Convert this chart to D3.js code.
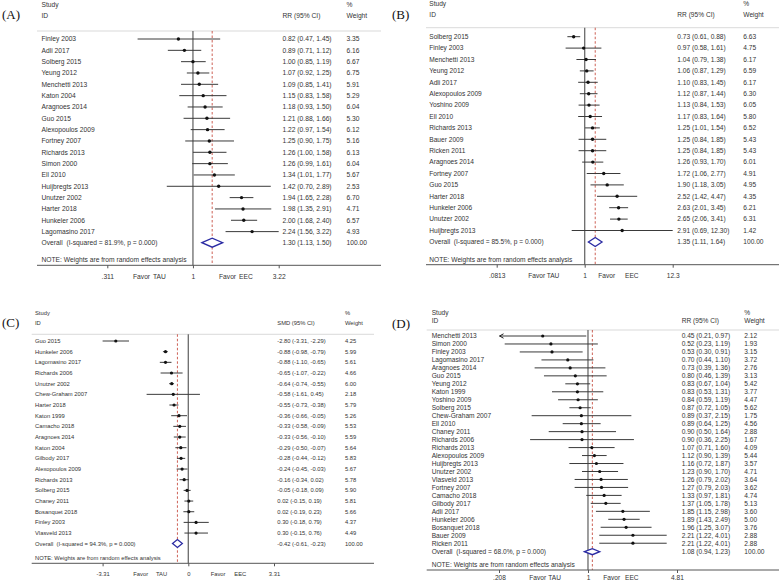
<!DOCTYPE html>
<html><head><meta charset="utf-8">
<script src="https://cdn.jsdelivr.net/npm/d3@7"></script>
<style>
html,body{margin:0;padding:0;background:#fff;}
svg text{font-family:"Liberation Sans",Arial,sans-serif;fill:#333;white-space:pre;}
</style></head>
<body><svg id="c" width="779" height="581"></svg>
<script>
// ---------- Panel A (RR) ----------
const studiesA = ["Finley 2003","Adli 2017","Solberg 2015","Yeung 2012","Menchetti 2013","Katon 2004","Aragnoes 2014","Guo 2015","Alexopoulos 2009","Fortney 2007","Richards 2013","Simon 2000","Ell 2010","Huijbregts 2013","Unutzer 2002","Harter 2018","Hunkeler 2006","Lagomasino 2017"];
const estA = [0.82,0.89,1.00,1.07,1.09,1.15,1.18,1.21,1.22,1.25,1.26,1.26,1.34,1.42,1.94,1.98,2.00,2.24];
const loA  = [0.47,0.71,0.85,0.92,0.85,0.83,0.93,0.88,0.97,0.90,1.00,0.99,1.01,0.70,1.65,1.35,1.68,1.56];
const hiA  = [1.45,1.12,1.19,1.25,1.41,1.58,1.50,1.66,1.54,1.75,1.58,1.61,1.77,2.89,2.28,2.91,2.40,3.22];
const wA   = [3.35,6.16,6.67,6.75,5.91,5.29,6.04,5.30,6.12,5.16,6.13,6.04,5.67,2.53,6.70,4.71,6.57,4.93];
const overallA = [1.30,1.13,1.50];
const isqA = "81.9%";
const ticksA = [0.311,1,3.22];
const tickLabelsA = [".311","1","3.22"];

// ---------- Panel B (RR) ----------
const studiesB = ["Solberg 2015","Finley 2003","Menchetti 2013","Yeung 2012","Adli 2017","Alexopoulos 2009","Yoshino 2009","Ell 2010","Richards 2013","Bauer 2009","Ricken 2011","Aragnoes 2014","Fortney 2007","Guo 2015","Harter 2018","Hunkeler 2006","Unutzer 2002","Huijbregts 2013"];
const estB = [0.73,0.97,1.04,1.06,1.10,1.12,1.13,1.17,1.25,1.25,1.25,1.26,1.72,1.90,2.52,2.63,2.65,2.91];
const loB  = [0.61,0.58,0.79,0.87,0.83,0.87,0.84,0.83,1.01,0.84,0.84,0.93,1.06,1.18,1.42,2.01,2.06,0.69];
const hiB  = [0.88,1.61,1.38,1.29,1.45,1.44,1.53,1.64,1.54,1.85,1.85,1.70,2.77,3.05,4.47,3.45,3.41,12.30];
const wB   = [6.63,4.75,6.17,6.59,6.17,6.30,6.05,5.80,6.52,5.43,5.43,6.01,4.91,4.95,4.35,6.21,6.31,1.42];
const overallB = [1.35,1.11,1.64];
const isqB = "85.5%";
const ticksB = [0.0813,1,12.3];
const tickLabelsB = [".0813","1","12.3"];

// ---------- Panel C (SMD) ----------
const studiesC = ["Guo 2015","Hunkeler 2006","Lagomasino 2017","Richards 2006","Unutzer 2002","Chew-Graham 2007","Harter 2018","Katon 1999","Camacho 2018","Aragnoes 2014","Katon 2004","Gilbody 2017","Alexopoulos 2009","Richards 2013","Solberg 2015","Chaney 2011","Bosanquet 2018","Finley 2003","Vlasveld 2013"];
const estC = [-2.80,-0.88,-0.88,-0.65,-0.64,-0.58,-0.55,-0.36,-0.33,-0.33,-0.29,-0.28,-0.24,-0.16,-0.05,0.02,0.02,0.30,0.30];
const loC  = [-3.31,-0.98,-1.10,-1.07,-0.74,-1.61,-0.73,-0.66,-0.58,-0.56,-0.50,-0.44,-0.45,-0.34,-0.18,-0.15,-0.19,-0.18,-0.15];
const hiC  = [-2.29,-0.79,-0.65,-0.22,-0.55,0.45,-0.38,-0.05,-0.09,-0.10,-0.07,-0.12,-0.03,0.02,0.09,0.19,0.23,0.79,0.76];
const wC   = [4.25,5.99,5.61,4.66,6.00,2.18,5.79,5.26,5.53,5.59,5.64,5.83,5.67,5.78,5.90,5.81,5.66,4.37,4.49];
const overallC = [-0.42,-0.61,-0.23];
const isqC = "94.3%";
const ticksC = [-3.31,0,3.31];
const tickLabelsC = ["-3.31","0","3.31"];

// ---------- Panel D (RR) ----------
const studiesD = ["Menchetti 2013","Simon 2000","Finley 2003","Lagomasino 2017","Aragnoes 2014","Guo 2015","Yeung 2012","Katon 1999","Yoshino 2009","Solberg 2015","Chew-Graham 2007","Ell 2010","Chaney 2011","Richards 2006","Richards 2013","Alexopoulos 2009","Huijbregts 2013","Unutzer 2002","Vlasveld 2013","Fortney 2007","Camacho 2018","Gilbody 2017","Adli 2017","Hunkeler 2006","Bosanquet 2018","Bauer 2009","Ricken 2011"];
const estD = [0.45,0.52,0.53,0.70,0.73,0.80,0.83,0.83,0.84,0.87,0.89,0.89,0.90,0.90,1.07,1.12,1.16,1.23,1.26,1.27,1.33,1.37,1.85,1.89,1.96,2.21,2.21];
const loD  = [0.21,0.23,0.30,0.44,0.39,0.46,0.67,0.53,0.59,0.72,0.37,0.64,0.50,0.36,0.71,0.90,0.72,0.90,0.79,0.79,0.97,1.05,1.15,1.43,1.25,1.22,1.22];
const hiD  = [0.97,1.19,0.91,1.10,1.36,1.39,1.04,1.31,1.19,1.05,2.15,1.25,1.64,2.25,1.60,1.39,1.87,1.70,2.02,2.03,1.81,1.78,2.98,2.49,3.07,4.01,4.01];
const wD   = [2.12,1.93,3.15,3.72,2.76,3.13,5.42,3.77,4.47,5.62,1.75,4.56,2.88,1.67,4.09,5.44,3.57,4.71,3.64,3.62,4.74,5.13,3.60,5.00,3.76,2.88,2.88];
const overallD = [1.08,0.94,1.23];
const isqD = "68.0%";
const ticksD = [0.208,1,4.81];
const tickLabelsD = [".208","1","4.81"];
const arrowLeftD = ["Menchetti 2013"];

const svg = d3.select("#c");

function fmt(v){ return v.toFixed(2); }

function drawPanel(cfg, d){
  const g = svg.append("g");
  const x = cfg.log ? d3.scaleLog().domain(cfg.dom).range(cfg.rng)
                    : d3.scaleLinear().domain(cfg.dom).range(cfg.rng);
  const fs = cfg.fs;
  // panel label
  g.append("text").attr("x",cfg.labX).attr("y",cfg.labY).attr("dy","0.35em")
    .style("font-family","'Liberation Serif','Times New Roman',serif").style("font-size","13px").style("fill","#111")
    .text(cfg.label);
  // header
  const hdr = [["Study",cfg.sx,cfg.h1],["ID",cfg.sx,cfg.h2],[cfg.measure+" (95% CI)",cfg.ex,cfg.h2],["%",cfg.wx,cfg.h1],["Weight",cfg.wx,cfg.h2]];
  hdr.forEach(h=>g.append("text").attr("x",h[1]).attr("y",h[2]).attr("dy","0.35em").style("font-size",fs+"px").text(h[0]));
  g.append("line").attr("x1",cfg.ax0).attr("x2",cfg.ax1).attr("y1",cfg.rule).attr("y2",cfg.rule)
    .attr("stroke","#cfcfcf").attr("stroke-width",0.8);
  const yRow = i => cfg.r0 + i*cfg.step;
  // null line
  g.append("line").attr("x1",x(cfg.nullV)).attr("x2",x(cfg.nullV)).attr("y1",cfg.rule).attr("y2",cfg.axY)
    .attr("stroke","#6a6a6a").attr("stroke-width",1.3);
  // overall dashed line
  g.append("line").attr("x1",x(d.overall[0])).attr("x2",x(d.overall[0])).attr("y1",cfg.rule).attr("y2",cfg.axY)
    .attr("stroke","#c0392b").attr("stroke-width",0.8).attr("stroke-dasharray","2.5,2");
  // rows
  d.studies.forEach((s,i)=>{
    const y = yRow(i);
    const arrow = d.arrowLeft && d.arrowLeft.includes(s);
    g.append("line").attr("x1",x(d.lo[i])).attr("x2",x(d.hi[i])).attr("y1",y).attr("y2",y)
      .attr("stroke","#3a3a3a").attr("stroke-width",1);
    if(arrow){
      const ax = x(d.lo[i]);
      g.append("path").attr("d",`M${ax+4},${y-2.2} L${ax},${y} L${ax+4},${y+2.2}`)
        .attr("fill","none").attr("stroke","#222").attr("stroke-width",1);
    }
    g.append("circle").attr("cx",x(d.est[i])).attr("cy",y).attr("r",cfg.mr).attr("fill","#111");
    g.append("text").attr("x",cfg.sx).attr("y",y).attr("dy","0.35em").style("font-size",fs+"px").text(s);
    g.append("text").attr("x",cfg.ex).attr("y",y).attr("dy","0.35em").style("font-size",fs+"px")
      .text(`${fmt(d.est[i])} (${fmt(d.lo[i])}, ${fmt(d.hi[i])})`);
    g.append("text").attr("x",cfg.wx).attr("y",y).attr("dy","0.35em").style("font-size",fs+"px").text(fmt(d.w[i]));
  });
  // overall
  const oy = cfg.oy, o = d.overall, hh = cfg.dh;
  g.append("path").attr("d",`M${x(o[1])},${oy} L${x(o[0])},${oy-hh} L${x(o[2])},${oy} L${x(o[0])},${oy+hh} Z`)
    .attr("fill","#fff").attr("stroke","#2b2ba3").attr("stroke-width",1.3);
  g.append("text").attr("x",cfg.sx).attr("y",oy).attr("dy","0.35em").style("font-size",fs+"px")
    .text(`Overall  (I-squared = ${d.isq}, p = 0.000)`);
  g.append("text").attr("x",cfg.ex).attr("y",oy).attr("dy","0.35em").style("font-size",fs+"px")
    .text(`${fmt(o[0])} (${fmt(o[1])}, ${fmt(o[2])})`);
  g.append("text").attr("x",cfg.wx).attr("y",oy).attr("dy","0.35em").style("font-size",fs+"px").text("100.00");
  // note
  g.append("text").attr("x",cfg.sx).attr("y",cfg.noteY).attr("dy","0.35em").style("font-size",fs+"px")
    .text("NOTE: Weights are from random effects analysis");
  // axis line
  g.append("line").attr("x1",cfg.ax0).attr("x2",cfg.ax1).attr("y1",cfg.axY).attr("y2",cfg.axY)
    .attr("stroke","#555").attr("stroke-width",1);
  const axis = d3.axisBottom(x).tickValues(d.ticks).tickFormat((v,i)=>d.tickLabels[i]).tickSize(3).tickPadding(3);
  const ag = g.append("g").attr("transform",`translate(0,${cfg.axY})`).call(axis);
  ag.select(".domain").remove();
  ag.selectAll(".tick line").attr("stroke","#555");
  ag.selectAll(".tick text").attr("y",cfg.tickY-cfg.axY).attr("dy","0.35em")
    .style("font-size",fs+"px").style("font-family","'Liberation Sans',Arial,sans-serif").attr("fill","#333");
  // favor labels
  [["Favor",cfg.fav[0]],["TAU",cfg.fav[1]],["Favor",cfg.fav[2]],["EEC",cfg.fav[3]]].forEach(t=>
    g.append("text").attr("x",t[1]).attr("y",cfg.tickY).attr("dy","0.35em").style("font-size",fs+"px").text(t[0]));
}

drawPanel({label:"(A)",labX:2,labY:14.5,log:true,dom:[0.311,3.22],rng:[107.3,278.7],nullV:1,fs:6.7,mr:1.7,
  sx:41.5,ex:282.5,wx:346.5,h1:5,h2:16,rule:31,ax0:37,ax1:381,r0:39,step:11.33,oy:242.7,dh:4.5,
  noteY:260,axY:265.3,tickY:276.3,measure:"RR",fav:[133,153,219,239]},
  {studies:studiesA,est:estA,lo:loA,hi:hiA,w:wA,overall:overallA,isq:isqA,ticks:ticksA,tickLabels:tickLabelsA});

drawPanel({label:"(B)",labX:392,labY:14.5,log:true,dom:[0.0813,12.3],rng:[496.7,672.7],nullV:1,fs:6.6,mr:1.7,
  sx:429.3,ex:677.3,wx:743.3,h1:3.5,h2:15,rule:27.7,ax0:426,ax1:779,r0:36.7,step:11.4,oy:242,dh:4.5,
  noteY:259.3,axY:264.7,tickY:275.7,measure:"RR",fav:[528.3,546.7,598.3,625]},
  {studies:studiesB,est:estB,lo:loB,hi:hiB,w:wB,overall:overallB,isq:isqB,ticks:ticksB,tickLabels:tickLabelsB});

drawPanel({label:"(C)",labX:2,labY:322,log:false,dom:[-3.31,3.31],rng:[102.6,274],nullV:0,fs:5.8,mr:1.6,
  sx:35,ex:277.3,wx:345,h1:313.3,h2:323.3,rule:334.3,ax0:31.7,ax1:374,r0:341,step:10.67,oy:543.5,dh:4,
  noteY:558,axY:563.3,tickY:574,measure:"SMD",fav:[133.3,156,210.7,234.3]},
  {studies:studiesC,est:estC,lo:loC,hi:hiC,w:wC,overall:overallC,isq:isqC,ticks:ticksC,tickLabels:tickLabelsC});

drawPanel({label:"(D)",labX:392,labY:323,log:true,dom:[0.208,4.81],rng:[499,677],nullV:1,fs:6.6,mr:1.6,
  sx:431.7,ex:681.7,wx:744.3,h1:312.7,h2:320.7,rule:330,ax0:426.7,ax1:779,r0:336,step:7.97,oy:551.7,dh:3,
  noteY:565,axY:570,tickY:577.7,measure:"RR",fav:[529.3,548.3,603.3,625]},
  {studies:studiesD,est:estD,lo:loD,hi:hiD,w:wD,overall:overallD,isq:isqD,ticks:ticksD,tickLabels:tickLabelsD,arrowLeft:arrowLeftD});
</script></body></html>
